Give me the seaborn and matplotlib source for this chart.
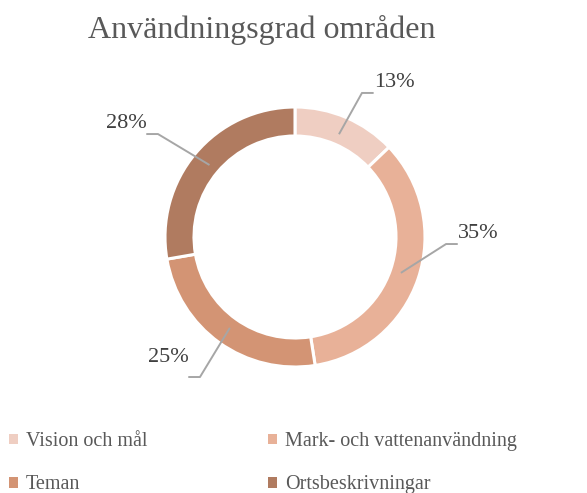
"""Donut chart — Användningsgrad områden."""

import matplotlib

matplotlib.use("Agg")

import matplotlib.pyplot as plt
import numpy as np
import seaborn as sns
from matplotlib.patches import Patch

categories = ["Vision och mål", "Mark- och vattenanvändning", "Teman", "Ortsbeskrivningar"]
values = [13, 35, 25, 28]
colors = ["#EFCEC2", "#E8B198", "#D39474", "#B07B60"]

sns.set_theme(style="white")
plt.rcParams["font.family"] = ["Liberation Serif", "DejaVu Serif"]

W, H = 587, 493
fig = plt.figure(figsize=(W / 100, H / 100), dpi=100)

# donut centre and radius in pixels
cx, cy, r = 295, 237, 130
ax = fig.add_axes([(cx - r) / W, (H - cy - r) / H, 2 * r / W, 2 * r / H])
wedges, _ = ax.pie(
    values,
    colors=colors,
    startangle=90,
    counterclock=False,
    radius=1,
    wedgeprops=dict(width=0.223, edgecolor="white", linewidth=2.2),
)
ax.set_xlim(-1, 1)
ax.set_ylim(-1, 1)

# label placement (axes data units): elbow point of the leader line
elbows = [(0.515, 1.108), (1.162, -0.054), (-0.731, -1.077), (-1.054, 0.792)]
text_dy = [0.0, 0.0, 0.07, 0.0]
for w, v, (ex, ey), dy in zip(wedges, values, elbows, text_dy):
    ang = np.deg2rad((w.theta1 + w.theta2) / 2)
    x0, y0 = 0.86 * np.cos(ang), 0.86 * np.sin(ang)
    side = 1 if ex > 0 else -1
    x2 = ex + side * 0.09
    ax.plot([x0, ex, x2], [y0, ey, ey], color="#A6A6A6", lw=1.4,
            clip_on=False, solid_capstyle="butt")
    ax.text(x2, ey + 0.005 + dy, f"{v}%", ha="left" if side > 0 else "right",
            va="bottom", fontsize=16, color="#404040", clip_on=False)

fig.text(262 / W, 1 - 30 / H, "Användningsgrad områden", ha="center",
         va="center", fontsize=23, color="#595959")

# legend fills row by row like the original
order = [0, 2, 1, 3]
handles = [Patch(facecolor=colors[i], edgecolor="none") for i in order]
fig.legend(
    handles,
    [categories[i] for i in order],
    loc="upper left",
    bbox_to_anchor=(-0.009, 1 - 418 / H),
    ncol=2,
    frameon=False,
    fontsize=14.5,
    handlelength=0.45,
    handleheight=0.45,
    handletextpad=0.4,
    columnspacing=6.0,
    labelspacing=1.2,
    borderaxespad=0.3,
    labelcolor="#595959",
)

fig.savefig("out.png", dpi=100)
